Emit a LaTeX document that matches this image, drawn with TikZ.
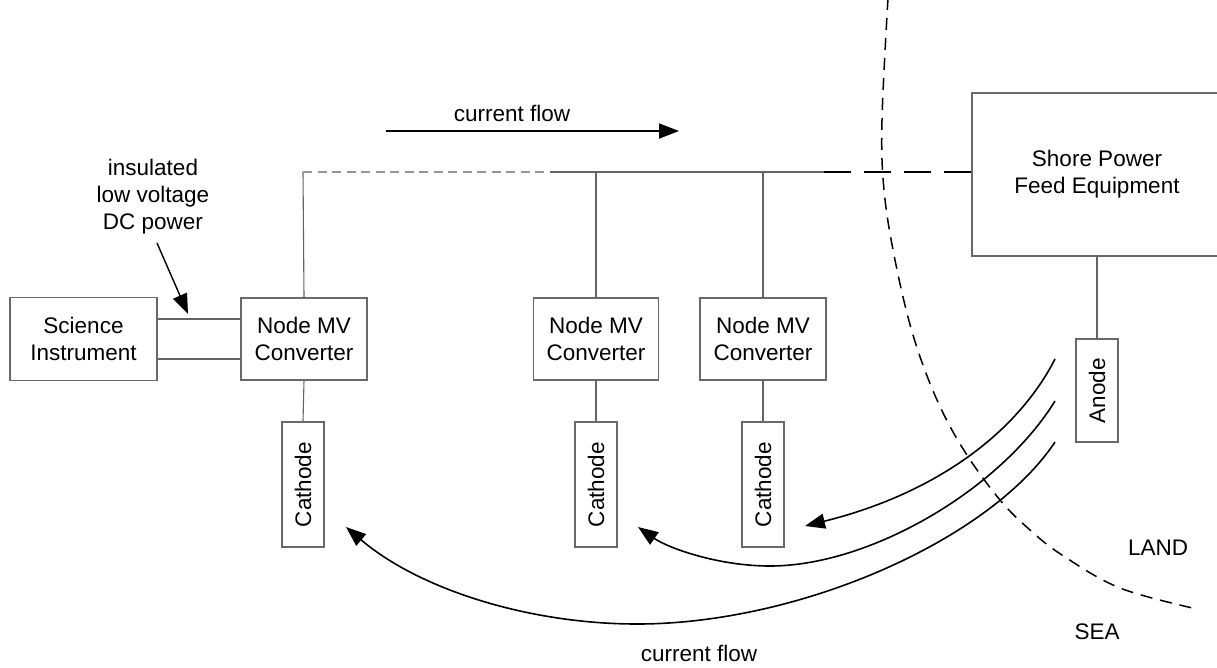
\documentclass[tikz,border=0pt]{standalone}
\usepackage{fontspec}
\setmainfont{Liberation Sans}
\usepackage{graphicx}
\usetikzlibrary{arrows.meta}
\definecolor{boxgray}{RGB}{105,105,105}
\definecolor{wiregray}{RGB}{100,100,100}
\definecolor{dashgray}{RGB}{150,150,150}
\tikzset{
  txt/.style={font=\fontsize{22.5}{27}\selectfont, align=center, inner sep=0pt},
  blk/.style={draw=boxgray, line width=1.2pt, inner sep=0pt, align=center,
              font=\fontsize{22.5}{27}\selectfont},
  wire/.style={draw=wiregray, line width=1.1pt},
  flow/.style={draw=black, line width=1.6pt, -{Triangle[length=20pt,width=15pt]}},
  shoreline/.style={draw=black, line width=1.5pt, dash pattern=on 12pt off 8pt},
}
\begin{document}
\begin{tikzpicture}[x=1pt,y=-1pt]
\useasboundingbox (0,0) rectangle (1217,667);

% boxes
\node[blk, minimum width=147pt, minimum height=83pt] (sci) at (83.5,339) {Science\\Instrument};
\node[blk, minimum width=126pt, minimum height=82pt] (conv1) at (304,339) {Node MV\\Converter};
\node[blk, minimum width=125pt, minimum height=82pt] (conv2) at (596,339) {Node MV\\Converter};
\node[blk, minimum width=126pt, minimum height=82pt] (conv3) at (763,339) {Node MV\\Converter};
\node[blk, minimum width=250pt, minimum height=163pt] (shore) at (1097,174.5) {Shore Power\\Feed Equipment};
\node[blk, minimum width=42pt, minimum height=125pt] (cath1) at (303,484.5) {\rotatebox{90}{Cathode}};
\node[blk, minimum width=42pt, minimum height=125pt] (cath2) at (596,484.5) {\rotatebox{90}{Cathode}};
\node[blk, minimum width=42pt, minimum height=125pt] (cath3) at (763,484.5) {\rotatebox{90}{Cathode}};
\node[blk, minimum width=42pt, minimum height=103pt] (anode) at (1097,390.5) {\rotatebox{90}{Anode}};

% labels
\node[txt] (ins) at (153,197) {insulated\\low voltage\\DC power};
\node[txt] (cftop) at (512,113) {current flow};
\node[txt] (cfbot) at (699,653) {current flow};
\node[txt] (land) at (1158,548) {LAND};
\node[txt] (sea) at (1097,632) {SEA};

% coordinates for the bus
\coordinate (top1) at (303,172);
\coordinate (jd) at (550,172);
\coordinate (js) at (824,172);
\coordinate (je) at (972,172);

% bus wiring
\draw[wire] (conv1.north) -- (top1);
\draw[draw=dashgray, line width=1.1pt, dash pattern=on 9pt off 5.5pt] (top1) -- (jd);
\draw[wire] (jd) -- (js);
\draw[draw=black, line width=1.8pt, dash pattern=on 27pt off 13pt] (js) -- (je);
\draw[wire] (conv2.north) -- (conv2.north |- top1);
\draw[wire] (conv3.north) -- (conv3.north |- top1);

% DC power links
\draw[wire] ([yshift=-20pt]sci.east) -- ([yshift=-20pt]conv1.west |- sci.east);
\draw[wire] ([yshift=20pt]sci.east) -- ([yshift=20pt]conv1.west |- sci.east);

% electrode links
\draw[wire] (conv1.south) -- (cath1.north);
\draw[wire] (conv2.south) -- (cath2.north);
\draw[wire] (conv3.south) -- (cath3.north);
\draw[wire] (shore.south) -- (anode.north);

% arrows
\coordinate (insA) at (157,243);
\coordinate (insB) at (188,314);
\draw[flow, line width=1.4pt] (insA) -- (insB);

\coordinate (tA) at (386,131);
\coordinate (tB) at (679,131);
\draw[flow, line width=1.8pt] (tA) -- (tB);

% shore line (land / sea)
\draw[shoreline] plot[smooth, tension=0.6] coordinates {
  (888,-2) (882,120) (884,190) (895,260) (913,335) (937,400) (965,452)
  (1000,500) (1030,530) (1062,555) (1120,588) (1197,609)};

% return current curves
\coordinate (c1s) at (1055,359);
\coordinate (c1e) at (805,526);
\draw[flow] (c1s) .. controls (1015,437) and (930,495) .. (c1e);

\coordinate (c2s) at (1055,401);
\coordinate (c2m) at (770,566);
\coordinate (c2e) at (638,527);
\draw[flow] (c2s) .. controls (1000,490) and (870,566) .. (c2m)
            .. controls (718,566) and (668,548) .. (c2e);

\coordinate (c3s) at (1055,442);
\coordinate (c3m) at (637,624);
\coordinate (c3e) at (346,527);
\draw[flow] (c3s) .. controls (990,540) and (800,624) .. (c3m)
            .. controls (530,624) and (420,590) .. (c3e);
\end{tikzpicture}
\end{document}
